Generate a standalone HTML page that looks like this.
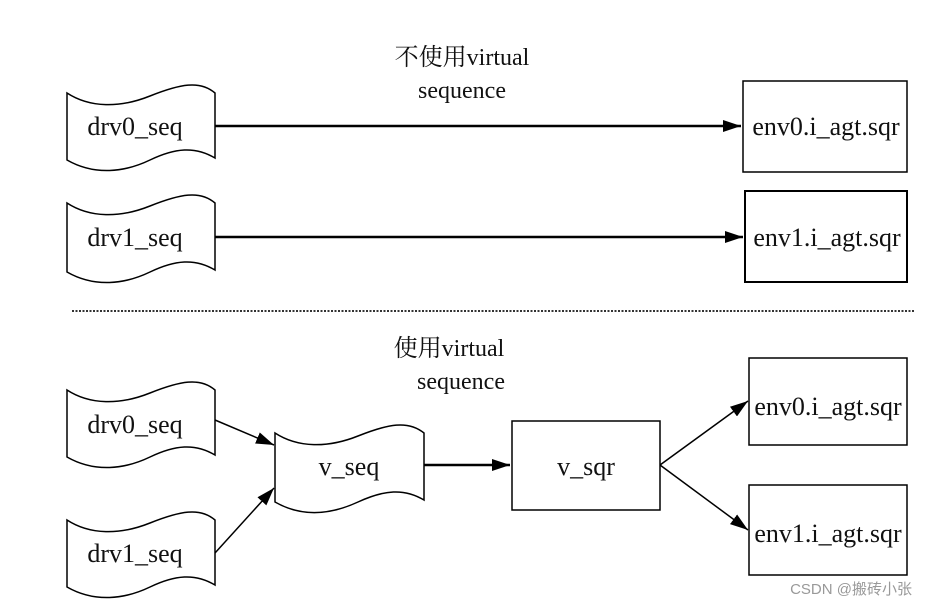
<!DOCTYPE html>
<html><head><meta charset="utf-8"><style>
body{margin:0;background:#fff}
svg text{font-family:"Liberation Serif","Noto Serif CJK SC",serif;font-size:26px;fill:#111}
</style></head><body>
<svg width="928" height="607" viewBox="0 0 928 607" xmlns="http://www.w3.org/2000/svg">
<defs>
<marker id="b" markerWidth="20" markerHeight="12" refX="18" refY="6" orient="auto" markerUnits="userSpaceOnUse"><path d="M0,0L18,6L0,12z" fill="#000"/></marker></defs>
<g fill="none" stroke="#000" stroke-width="1.5">
<path d="M67,93 C90,108 120,108 150,96 S200,80 215,93 L215,158 C195,146 175,148 150,160 S95,176 67,160 Z"/>
<path d="M67,203 C90,218 120,218 150,206 S200,190 215,203 L215,270 C195,258 175,260 150,272 S95,288 67,272 Z"/>
<path d="M67,390 C90,405 120,405 150,393 S200,377 215,390 L215,455 C195,443 175,445 150,457 S95,473 67,457 Z"/>
<path d="M67,520 C90,535 120,535 150,523 S200,507 215,520 L215,585 C195,573 175,575 150,587 S95,603 67,587 Z"/>
<path d="M275,433 C298,448 328,448 358,436 S408,420 424,433 L424,500 C404,488 384,490 358,502 S303,518 275,502 Z"/>
<rect x="743" y="81" width="164" height="91"/>
<rect x="745" y="191" width="162" height="91" stroke-width="2"/>
<rect x="512" y="421" width="148" height="89"/>
<rect x="749" y="358" width="158" height="87"/>
<rect x="749" y="485" width="158" height="90"/>
<g stroke-width="2.5">
<line x1="215" y1="126" x2="741" y2="126" marker-end="url(#b)"/>
<line x1="215" y1="237" x2="743" y2="237" marker-end="url(#b)"/>
<line x1="424" y1="465" x2="510" y2="465" marker-end="url(#b)"/>
</g>
<g stroke-width="1.5">
<line x1="215" y1="420" x2="274" y2="445" marker-end="url(#b)"/>
<line x1="215" y1="553" x2="274" y2="488" marker-end="url(#b)"/>
<line x1="660" y1="465" x2="748" y2="401" marker-end="url(#b)"/>
<line x1="660" y1="465" x2="748" y2="530" marker-end="url(#b)"/>
</g>
<line x1="72" y1="311" x2="915" y2="311" stroke-width="2" stroke-dasharray="2,1.5" stroke="#333"/>
</g>
<text x="462" y="65" text-anchor="middle" style="font-size:24px">不使用virtual</text>
<text x="462" y="98" text-anchor="middle" style="font-size:24px">sequence</text>
<text x="449" y="356" text-anchor="middle" style="font-size:24px">使用virtual</text>
<text x="461" y="389" text-anchor="middle" style="font-size:24px">sequence</text>
<text x="135" y="135" text-anchor="middle">drv0_seq</text>
<text x="135" y="246" text-anchor="middle">drv1_seq</text>
<text x="135" y="433" text-anchor="middle">drv0_seq</text>
<text x="135" y="562" text-anchor="middle">drv1_seq</text>
<text x="349" y="475" text-anchor="middle">v_seq</text>
<text x="586" y="475" text-anchor="middle">v_sqr</text>
<text x="826" y="135" text-anchor="middle">env0.i_agt.sqr</text>
<text x="827" y="246" text-anchor="middle">env1.i_agt.sqr</text>
<text x="828" y="415" text-anchor="middle">env0.i_agt.sqr</text>
<text x="828" y="542" text-anchor="middle">env1.i_agt.sqr</text>
<text x="912" y="594" text-anchor="end" style="font-family:'Liberation Sans','Noto Sans CJK SC',sans-serif;font-size:15px;fill:#999">CSDN @搬砖小张</text>
</svg>
</body></html>
